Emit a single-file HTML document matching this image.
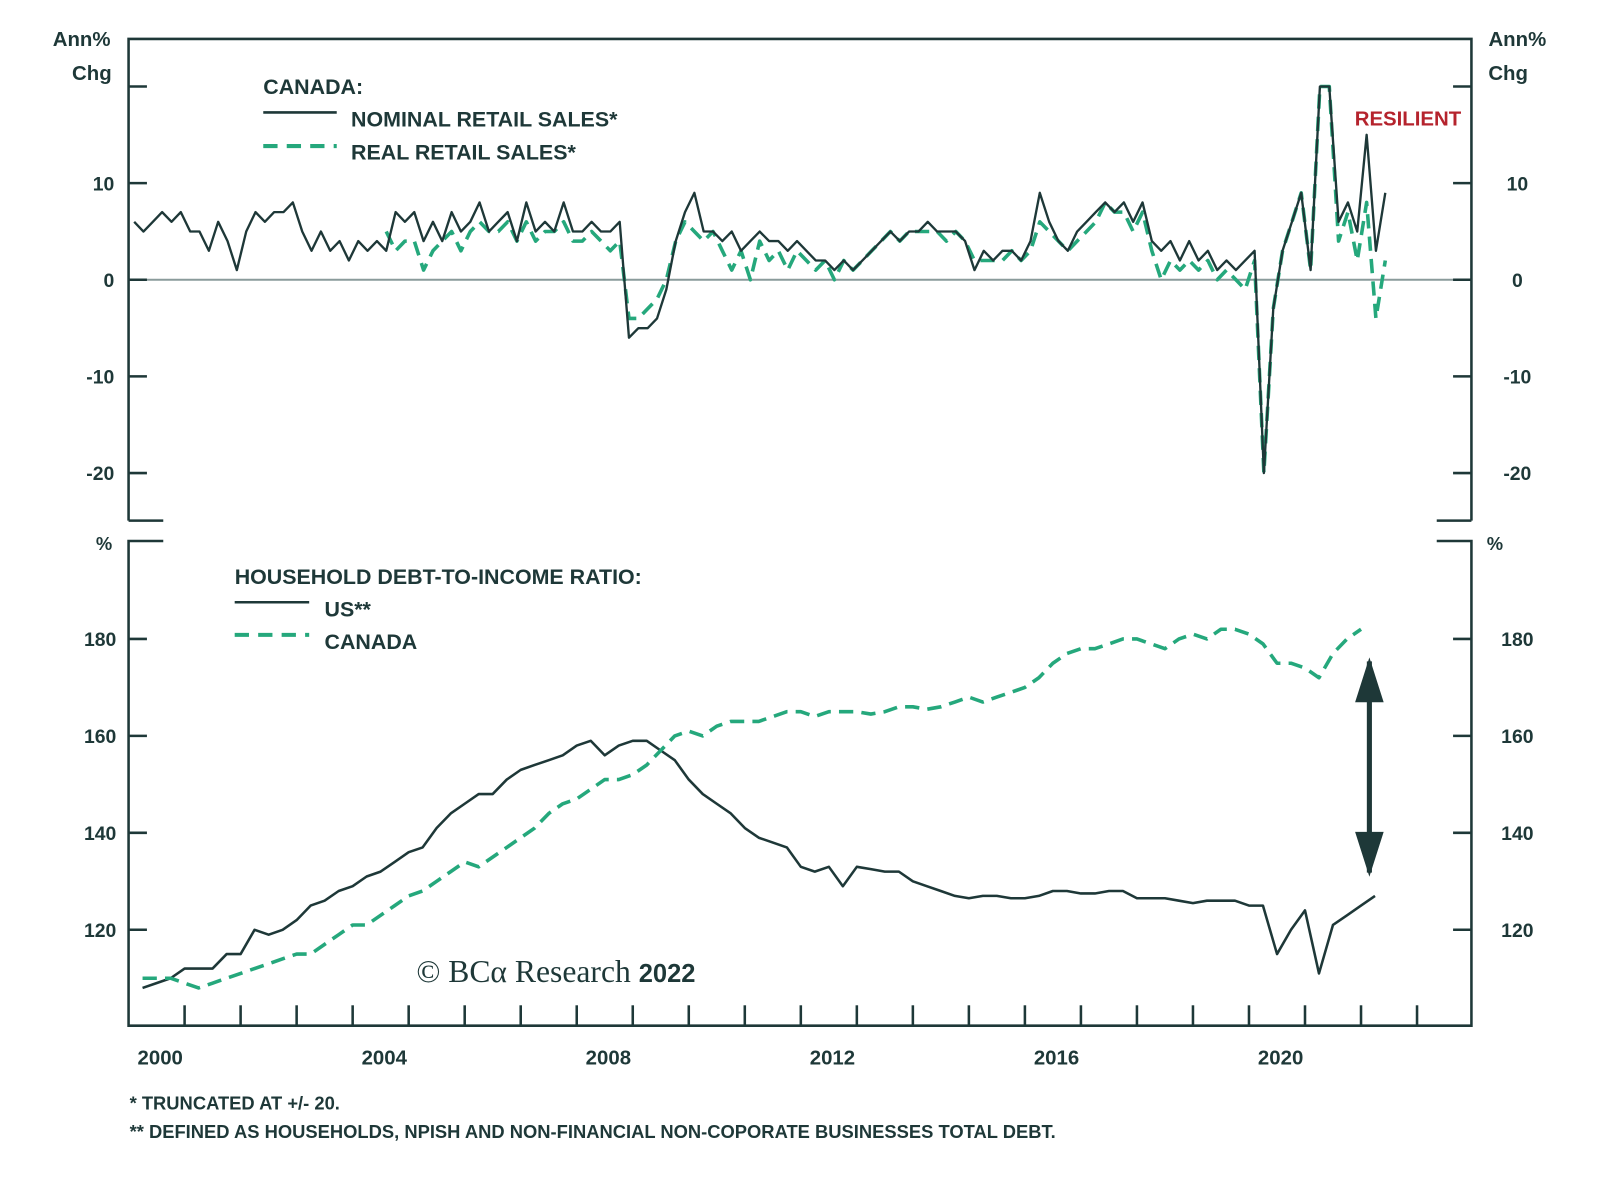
<!DOCTYPE html>
<html><head><meta charset="utf-8"><style>
html,body{margin:0;padding:0;background:#fff}
svg{display:block}
text{font-family:"Liberation Sans",sans-serif;fill:#1e3838;font-weight:bold}
</style></head><body>
<svg id="chart" width="1600" height="1182" viewBox="0 0 1568 1158" xmlns="http://www.w3.org/2000/svg">
<g id="frame" stroke="#1e3838" stroke-width="2.5" fill="none">
<path d="M126,510 L126,38 L1442,38 L1442,510"/>
<path d="M126,510 L160,510 M1442,510 L1408,510"/>
<path d="M160,530 L126,530 L126,1005 L1442,1005 L1442,530 L1408,530"/>
</g>
<line x1="126" x2="1442" y1="274" y2="274" stroke="#8a9b9b" stroke-width="2"/>
<g id="axes"></g>
<g id="series"></g>
<text x="80" y="45" text-anchor="middle" font-size="20">Ann%</text>
<text x="90" y="78" text-anchor="middle" font-size="20">Chg</text>
<text x="1487" y="45" text-anchor="middle" font-size="20">Ann%</text>
<text x="1478" y="78" text-anchor="middle" font-size="20">Chg</text>
<text x="102" y="539" text-anchor="middle" font-size="18" font-weight="normal">%</text>
<text x="1465" y="539" text-anchor="middle" font-size="18" font-weight="normal">%</text>
<g>
<text x="258" y="92" font-size="21" font-weight="normal">CANADA:</text>
<line x1="258" x2="330" y1="110" y2="110" stroke="#1e3838" stroke-width="2.5"/>
<text x="344" y="124" font-size="21" font-weight="normal">NOMINAL RETAIL SALES*</text>
<line x1="258" x2="330" y1="143" y2="143" stroke="#25a87c" stroke-width="4" stroke-dasharray="14,9"/>
<text x="344" y="156" font-size="21" font-weight="normal">REAL RETAIL SALES*</text>
<text x="1432" y="123" text-anchor="end" font-size="20" style="fill:#b5232d">RESILIENT</text>
</g>
<g>
<text x="230" y="572" font-size="21" font-weight="normal">HOUSEHOLD DEBT-TO-INCOME RATIO:</text>
<line x1="230" x2="303" y1="590" y2="590" stroke="#1e3838" stroke-width="2.5"/>
<text x="318" y="604" font-size="21" font-weight="normal">US**</text>
<line x1="230" x2="303" y1="622" y2="622" stroke="#25a87c" stroke-width="4" stroke-dasharray="14,9"/>
<text x="318" y="636" font-size="21" font-weight="normal">CANADA</text>
</g>
<text x="408" y="962" font-size="31" style="font-family:'Liberation Serif',serif;font-weight:normal">© BCα Research <tspan style="font-family:'Liberation Sans',sans-serif;font-weight:bold" font-size="25">2022</tspan></text>
<path d="M1342,648 L1342,855" stroke="#1e3838" stroke-width="5"/>
<path d="M1342,644 L1328,688 L1356,688 Z M1342,859 L1328,815 L1356,815 Z" fill="#1e3838"/>
<text x="127" y="1087" font-size="18" font-weight="normal">*  TRUNCATED AT +/- 20.</text>
<text x="127" y="1115" font-size="18" font-weight="normal">** DEFINED AS HOUSEHOLDS, NPISH AND NON-FINANCIAL NON-COPORATE BUSINESSES TOTAL DEBT.</text>
</svg>
<script>
const xTickYears=[2001,2002,2003,2004,2005,2006,2007,2008,2009,2010,2011,2012,2013,2014,2015,2016,2017,2018,2019,2020,2021,2022,2023];
const xLabelYears=[2000,2004,2008,2012,2016,2020];
const topTicks=[20,10,0,-10,-20];
const topTickLabels=["","10","0","-10","-20"];
const bottomTicks=[180,160,140,120];
const nominalStart=2000.1;
const realStart=2004.6;
const retailStep=1/6;
const nominalSales=[6,5,6,7,6,7, 5,5,3,6,4,1, 5,7,6,7,7,8, 5,3,5,3,4,2, 4,3,4,3,7,6, 7,4,6,4,7,5, 6,8,5,6,7,4, 8,5,6,5,8,5, 5,6,5,5,6,-6, -5,-5,-4,-1,4,7, 9,5,5,4,5,3, 4,5,4,4,3,4, 3,2,2,1,2,1, 2,3,4,5,4,5, 5,6,5,5,5,4, 1,3,2,3,3,2, 4,9,6,4,3,5, 6,7,8,7,8,6, 8,4,3,4,2,4, 2,3,1,2,1,2, 3,-20,-3,3,6,9, 1,20,20,6,8,5, 15,3,9];
const realSales=[5,3,4, 4,1,3,4,5,3, 5,6,5,5,6,4, 6,4,5,5,6,4, 4,5,4,3,4,-4, -4,-3,-2,0,4,6, 5,4,5,3,1,3, 0,4,2,3,1,3, 2,1,2,0,2,1, 2,3,4,5,4,5, 5,5,5,4,5,4, 2,2,2,2,3,2, 3,6,5,4,3,4, 5,6,8,7,7,5, 7,3,0,2,1,2, 1,2,0,1,0,-1, 2,-20,-3,3,6,9, 1,20,20,4,7,2, 8,-4,2];
const debtStart=2000.25;
const debtStep=0.25;
const usDebt=[108,109,110,112, 112,112,115,115, 120,119,120,122, 125,126,128,129, 131,132,134,136, 137,141,144,146, 148,148,151,153, 154,155,156,158, 159,156,158,159, 159,157,155,151, 148,146,144,141, 139,138,137,133, 132,133,129,133, 132.5,132,132,130, 129,128,127,126.5, 127,127,126.5,126.5, 127,128,128,127.5, 127.5,128,128,126.5, 126.5,126.5,126,125.5, 126,126,126,125, 125,115,120,124, 111,121,123,125, 127];
const canadaDebt=[110,110,110,109, 108,109,110,111, 112,113,114,115, 115,117,119,121, 121,123,125,127, 128,130,132,134, 133,135,137,139, 141,144,146,147, 149,151,151,152, 154,157,160,161, 160,162,163,163, 163,164,165,165, 164,165,165,165, 164.5,165,166,166, 165.5,166,167,168, 167,168,169,170, 172,175,177,178, 178,179,180,180, 179,178,180,181, 180,182,182,181, 179,175,175,174, 172,177,180,182];

const NS="http://www.w3.org/2000/svg";
const xScale=t=>126+(t-2000)*54.9;
const yTop=v=>274-Math.max(-20,Math.min(20,v))*9.47;
const yBot=v=>911-(v-120)*4.75;
function mk(tag,attrs,parent){const e=document.createElementNS(NS,tag);for(const k in attrs)e.setAttribute(k,attrs[k]);parent.appendChild(e);return e;}
const axes=document.getElementById('axes');
const series=document.getElementById('series');
xTickYears.forEach(y=>{
  const l=mk('line',{x1:xScale(y),x2:xScale(y),y1:1005,y2:985,stroke:'#1e3838','stroke-width':2.5},axes);
  
  
});
xLabelYears.forEach(y=>{
  const t=mk('text',{x:xScale(y)+31,y:1043,'text-anchor':'middle','font-size':20},axes);
  t.textContent=y;
  
  
});
topTicks.forEach((v,i)=>{
  const y=yTop(v);
  const a=mk('path',{d:`M126,${y}L144,${y}M1442,${y}L1424,${y}`,stroke:'#1e3838','stroke-width':2.5},axes);
  
  
  if(topTickLabels[i]){
    const t=mk('text',{x:112,y:y+7,'text-anchor':'end','font-size':19},axes);
    t.textContent=topTickLabels[i];
    
    
    const r=mk('text',{x:1487,y:y+7,'text-anchor':'middle','font-size':19},axes);
    r.textContent=topTickLabels[i];
    
    
  }
});
bottomTicks.forEach(v=>{
  const y=yBot(v);
  const a=mk('path',{d:`M126,${y}L144,${y}M1442,${y}L1424,${y}`,stroke:'#1e3838','stroke-width':2.5},axes);
  
  
  const t=mk('text',{x:114,y:y+7,'text-anchor':'end','font-size':19},axes);
  t.textContent=v;
  
  
  const r=mk('text',{x:1487,y:y+7,'text-anchor':'middle','font-size':19},axes);
  r.textContent=v;
  
  
});
function pts(arr,start,step,ys){return arr.map((v,i)=>xScale(start+i*step).toFixed(1)+','+ys(v).toFixed(1)).join(' ');}
const p1=mk('polyline',{points:pts(realSales,realStart,retailStep,yTop),fill:'none',stroke:'#25a87c','stroke-width':3.5,'stroke-dasharray':'14,8','stroke-linejoin':'round'},series);


const p0=mk('polyline',{points:pts(nominalSales,nominalStart,retailStep,yTop),fill:'none',stroke:'#1e3838','stroke-width':2.3,'stroke-linejoin':'round'},series);


const p2=mk('polyline',{points:pts(usDebt,debtStart,debtStep,yBot),fill:'none',stroke:'#1e3838','stroke-width':2.5,'stroke-linejoin':'round'},series);


const p3=mk('polyline',{points:pts(canadaDebt,debtStart,debtStep,yBot),fill:'none',stroke:'#25a87c','stroke-width':3.5,'stroke-dasharray':'14,8','stroke-linejoin':'round'},series);


</script>
</body></html>
